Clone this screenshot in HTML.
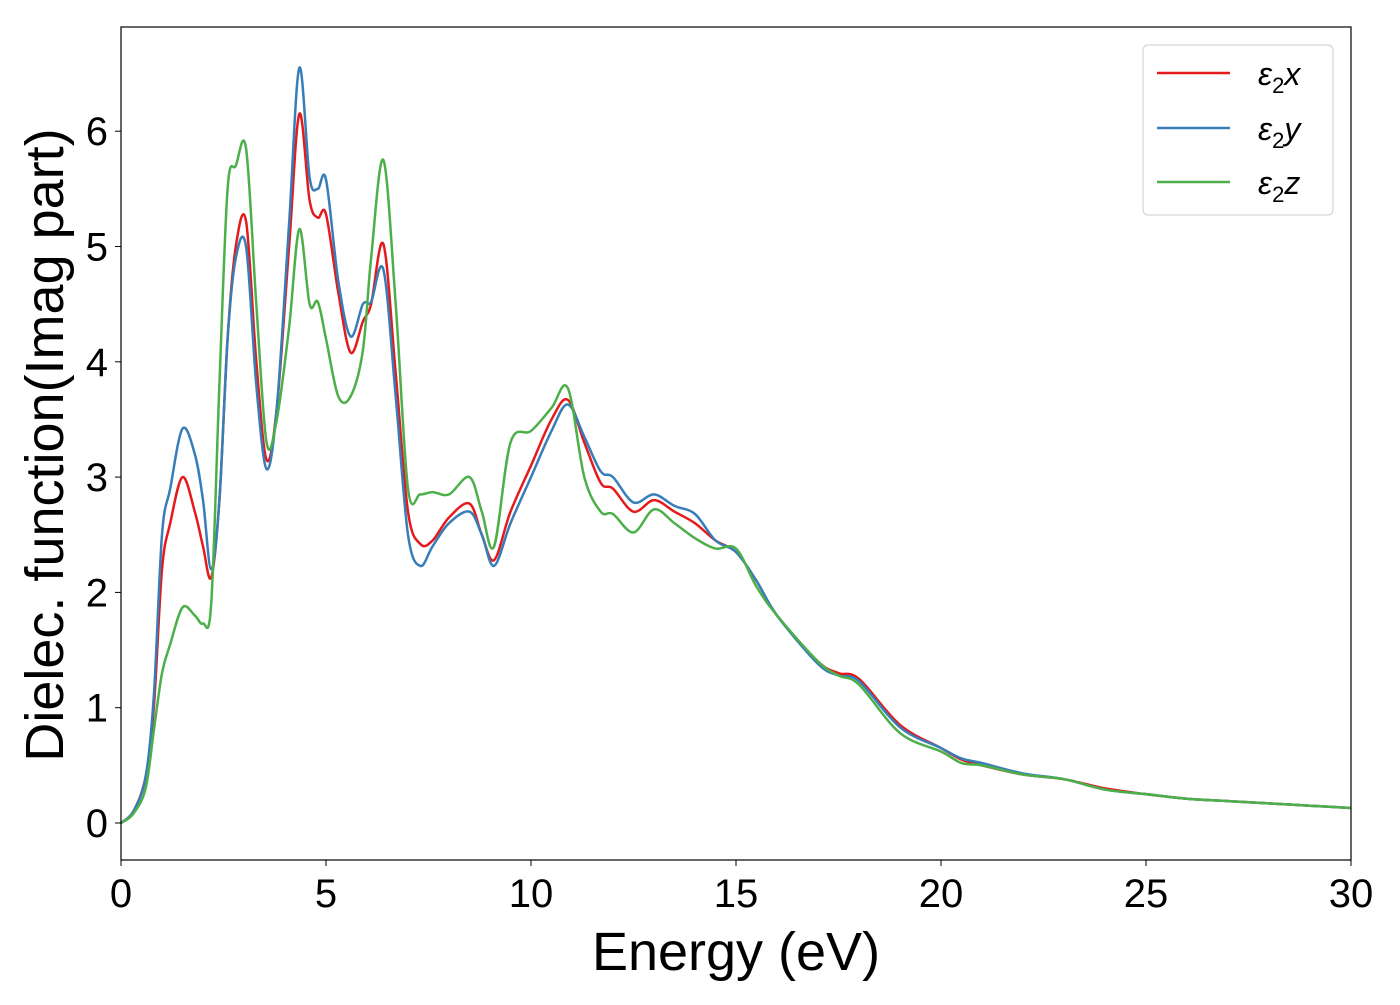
<!DOCTYPE html>
<html><head><meta charset="utf-8"><style>
body{margin:0;background:#fff}
svg text{font-family:"Liberation Sans","DejaVu Sans",sans-serif;fill:#000}
</style></head><body>
<svg id="chart" width="1400" height="1000" xmlns="http://www.w3.org/2000/svg">
<g id="lines"></g>
<rect x="121" y="27" width="1230" height="833" fill="none" stroke="#000" stroke-width="1.2"/>
<g id="ticks"></g>
<text x="736" y="970" font-size="54" text-anchor="middle">Energy (eV)</text>
<text transform="translate(63,445) rotate(-90)" font-size="54" text-anchor="middle">Dielec. function(Imag part)</text>
<g>
<rect x="1143" y="45" width="190" height="170" rx="5" fill="#fff" fill-opacity="0.8" stroke="#ccc"/>
<line x1="1157" y1="73" x2="1230" y2="73" stroke="#e41a1c" stroke-width="2.5"/>
<text x="1258" y="85" font-size="32" font-style="italic">ε<tspan font-size="22" dy="8" font-style="normal">2</tspan><tspan dy="-8">x</tspan></text>
<line x1="1157" y1="128" x2="1230" y2="128" stroke="#377eb8" stroke-width="2.5"/>
<text x="1258" y="140" font-size="32" font-style="italic">ε<tspan font-size="22" dy="8" font-style="normal">2</tspan><tspan dy="-8">y</tspan></text>
<line x1="1157" y1="182" x2="1230" y2="182" stroke="#4daf4a" stroke-width="2.5"/>
<text x="1258" y="194" font-size="32" font-style="italic">ε<tspan font-size="22" dy="8" font-style="normal">2</tspan><tspan dy="-8">z</tspan></text>
</g>
</svg>
<script>
const energy=[0,0.3,0.6,0.8,1.0,1.2,1.5,1.8,2.0,2.2,2.4,2.6,2.8,3.05,3.3,3.55,3.8,4.1,4.35,4.6,4.8,5.0,5.3,5.6,5.9,6.1,6.4,6.7,7.0,7.3,7.6,8.0,8.5,8.8,9.1,9.5,10.0,10.5,10.9,11.3,11.7,12.0,12.5,13.0,13.5,14.0,14.5,15.0,15.5,16,17,17.5,18,19,20,20.5,21,22,23,24,25,26,27,28,29,30];
const eps2x=[0,0.1,0.4,1.0,2.2,2.6,3.0,2.7,2.4,2.13,2.8,4.2,5.0,5.22,4.0,3.15,3.6,5.0,6.15,5.4,5.25,5.28,4.6,4.08,4.35,4.5,5.02,3.9,2.7,2.42,2.45,2.65,2.77,2.5,2.28,2.7,3.1,3.5,3.67,3.3,2.95,2.9,2.7,2.8,2.7,2.6,2.45,2.35,2.1,1.8,1.4,1.3,1.25,0.85,0.65,0.55,0.5,0.42,0.38,0.3,0.25,0.21,0.19,0.17,0.15,0.13];
const eps2y=[0,0.1,0.4,1.1,2.5,2.9,3.42,3.2,2.8,2.2,2.8,4.2,4.9,5.0,3.8,3.07,3.6,5.2,6.55,5.6,5.5,5.58,4.7,4.22,4.5,4.52,4.8,3.7,2.5,2.23,2.4,2.6,2.7,2.5,2.23,2.6,3.0,3.4,3.63,3.35,3.05,3.0,2.78,2.85,2.75,2.68,2.45,2.35,2.1,1.8,1.38,1.28,1.23,0.83,0.65,0.56,0.52,0.43,0.38,0.29,0.25,0.21,0.19,0.17,0.15,0.13];
const eps2z=[0,0.08,0.3,0.8,1.3,1.55,1.87,1.8,1.73,1.9,3.8,5.5,5.7,5.85,4.5,3.3,3.5,4.3,5.15,4.5,4.52,4.2,3.7,3.7,4.1,4.9,5.75,4.5,2.9,2.85,2.87,2.85,3.0,2.7,2.4,3.3,3.4,3.6,3.77,3.0,2.7,2.68,2.52,2.72,2.6,2.47,2.38,2.38,2.05,1.8,1.4,1.28,1.2,0.78,0.62,0.52,0.5,0.42,0.38,0.29,0.25,0.21,0.19,0.17,0.15,0.13];
const xTicks=[0,5,10,15,20,25,30];
const yTicks=[0,1,2,3,4,5,6];
const NS="http://www.w3.org/2000/svg";
const X=e=>121+e*41, Y=v=>823-v*115.3;
function path(xs,ys){
  const p=xs.map((e,i)=>[X(e),Y(ys[i])]);
  let d="M"+p[0][0]+","+p[0][1];
  for(let i=0;i<p.length-1;i++){
    const p0=p[Math.max(0,i-1)],p1=p[i],p2=p[i+1],p3=p[Math.min(p.length-1,i+2)];
    const c1=[p1[0]+(p2[0]-p0[0])/6,p1[1]+(p2[1]-p0[1])/6];
    const c2=[p2[0]-(p3[0]-p1[0])/6,p2[1]-(p3[1]-p1[1])/6];
    d+=` C${c1[0]},${c1[1]} ${c2[0]},${c2[1]} ${p2[0]},${p2[1]}`;
  }
  return d;
}
const lines=document.getElementById('lines');
[[eps2x,'#e41a1c','series-eps2x'],[eps2y,'#377eb8','series-eps2y'],[eps2z,'#4daf4a','series-eps2z']].forEach(s=>{
  const el=document.createElementNS(NS,'path');
  el.setAttribute('d',path(energy,s[0]));
  el.setAttribute('fill','none');el.setAttribute('stroke',s[1]);el.setAttribute('stroke-width','2.5');
  
  
  lines.appendChild(el);
});
const tg=document.getElementById('ticks');
xTicks.forEach(t=>{
  const l=document.createElementNS(NS,'line');
  l.setAttribute('x1',X(t));l.setAttribute('x2',X(t));l.setAttribute('y1',860);l.setAttribute('y2',866);l.setAttribute('stroke','#000');
  
  
  tg.appendChild(l);
  const tx=document.createElementNS(NS,'text');
  tx.setAttribute('x',X(t));tx.setAttribute('y',907);tx.setAttribute('font-size','40');tx.setAttribute('text-anchor','middle');
  tx.textContent=t;
  
  
  tg.appendChild(tx);
});
yTicks.forEach(t=>{
  const l=document.createElementNS(NS,'line');
  l.setAttribute('x1',115);l.setAttribute('x2',121);l.setAttribute('y1',Y(t));l.setAttribute('y2',Y(t));l.setAttribute('stroke','#000');
  
  
  tg.appendChild(l);
  const tx=document.createElementNS(NS,'text');
  tx.setAttribute('x',108);tx.setAttribute('y',Y(t)+14);tx.setAttribute('font-size','40');tx.setAttribute('text-anchor','end');
  tx.textContent=t;
  
  
  tg.appendChild(tx);
});
</script>
</body></html>
